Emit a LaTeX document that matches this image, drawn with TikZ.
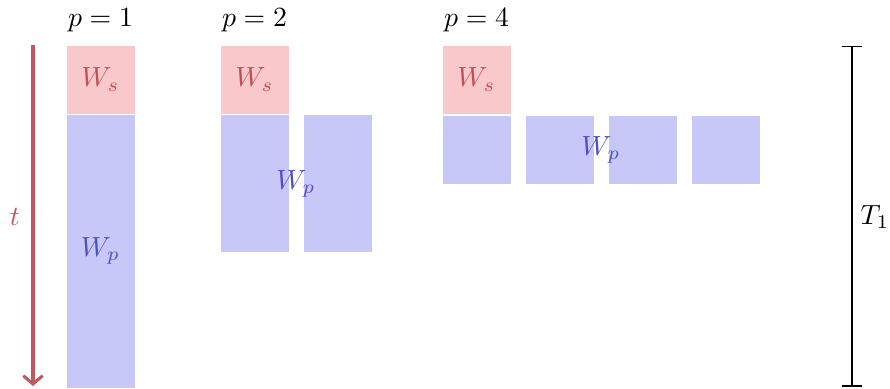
\documentclass[tikz,border=0pt]{standalone}
\usetikzlibrary{arrows.meta}
\definecolor{wsfill}{RGB}{249,200,202}
\definecolor{wpfill}{RGB}{200,200,248}
\definecolor{wstext}{RGB}{190,80,88}
\definecolor{wptext}{RGB}{80,80,190}
\definecolor{arrowred}{RGB}{192,88,96}
\tikzset{
  blk/.style={rectangle, inner sep=0pt, outer sep=0pt, draw=white, line width=0.3pt, minimum width=69*0.36pt},
  wsblk/.style={blk, fill=wsfill, minimum height=69*0.36pt},
  wpblk/.style={blk, fill=wpfill},
  wslbl/.style={text=wstext, inner sep=0pt},
  wplbl/.style={text=wptext, inner sep=0pt},
  plbl/.style={inner sep=0pt},
}
\begin{document}
\begin{tikzpicture}[x=0.36pt, y=-0.36pt]
\useasboundingbox (0,0) rectangle (890,388);
% p = 1
\node[plbl] (p1) at (100.5,20) {$p=1$};
\node[wsblk] (ws1) at (100.5,79.5) {};
\node[wpblk, minimum height=274*0.36pt] (wp1) at (100.5,251) {};
\node[wslbl] (ws1l) at (ws1.center) {$W_s$};
\node[wplbl] (wp1l) at (wp1.center) {$W_p$};
% p = 2
\node[plbl] (p2) at (254.5,20) {$p=2$};
\node[wsblk] (ws2) at (254.5,79.5) {};
\node[wpblk, minimum height=138*0.36pt] (wp2a) at (254.5,183.5) {};
\node[wpblk, minimum height=138*0.36pt] (wp2b) at (337.5,183.5) {};
\node[wplbl] (wp2l) at (296,183.5) {$W_p$};
\node[wslbl] (ws2l) at (ws2.center) {$W_s$};
% p = 4
\node[plbl] (p4) at (476.5,20) {$p=4$};
\node[wsblk] (ws4) at (476.5,79.5) {};
\node[wpblk, minimum height=69*0.36pt] (wp4a) at (476.5,149.5) {};
\node[wpblk, minimum height=69*0.36pt] (wp4b) at (559.5,149.5) {};
\node[wpblk, minimum height=69*0.36pt] (wp4c) at (642.5,149.5) {};
\node[wpblk, minimum height=69*0.36pt] (wp4d) at (725.5,149.5) {};
\node[wplbl] (wp4l) at (601,149.5) {$W_p$};
\node[wslbl] (ws4l) at (ws4.center) {$W_s$};
% time arrow
\coordinate (ttop) at (33,45);
\coordinate (tbot) at (33,386);
\draw[arrowred, line width=1.1pt, -{Straight Barb[length=3pt,width=7pt]}] (ttop) -- (tbot);
\node[text=arrowred, inner sep=0pt] (tl) at (15,217) {$t$};
% T1 bracket
\coordinate (btop) at (852,45.5);
\coordinate (bbot) at (852,386.5);
\draw[black, line width=0.7pt, {Bar[width=7.5pt]}-{Bar[width=7.5pt]}] (btop) -- (bbot);
\node[inner sep=0pt] (T1) at (875,217) {$T_1$};
\end{tikzpicture}
\end{document}
